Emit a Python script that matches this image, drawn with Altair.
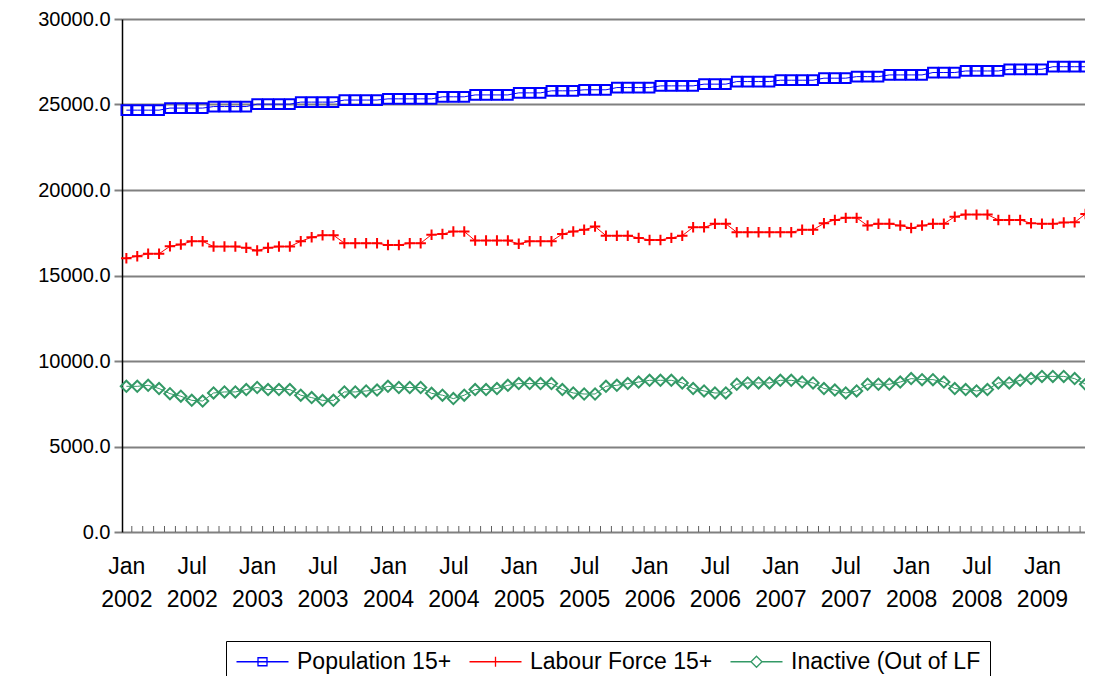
import altair as alt
import pandas as pd

# ---------------- data ----------------
months = list(range(89))  # Jan 2002 .. May 2009

population = [
    24670, 24670, 24670, 24670, 24790, 24790, 24790, 24790, 24880, 24880, 24880, 24880,
    25020, 25020, 25020, 25020, 25140, 25140, 25140, 25140, 25260, 25260, 25260, 25260,
    25330, 25330, 25330, 25330, 25330, 25450, 25450, 25450, 25560, 25560, 25560, 25560,
    25680, 25680, 25680, 25800, 25800, 25800, 25860, 25860, 25860, 25990, 25990, 25990,
    25990, 26090, 26090, 26090, 26090, 26190, 26190, 26190, 26340, 26340, 26340, 26340,
    26420, 26420, 26420, 26420, 26540, 26540, 26540, 26630, 26630, 26630, 26730, 26730,
    26730, 26730, 26870, 26870, 26870, 26960, 26960, 26960, 26960, 27060, 27060, 27060,
    27060, 27210, 27210, 27210, 27210,
]

labour = [
    16010, 16130, 16270, 16270, 16710, 16810, 17000, 17000, 16690, 16690, 16690, 16620,
    16460, 16620, 16690, 16690, 17000, 17240, 17360, 17360, 16890, 16890, 16890, 16890,
    16780, 16780, 16890, 16890, 17390, 17430, 17570, 17570, 17040, 17040, 17040, 17040,
    16850, 17000, 17000, 17000, 17430, 17570, 17670, 17860, 17330, 17330, 17330, 17200,
    17080, 17080, 17200, 17330, 17820, 17820, 18020, 18020, 17530, 17530, 17530, 17530,
    17530, 17530, 17670, 17670, 18050, 18250, 18370, 18370, 17920, 18020, 18020, 17920,
    17780, 17920, 18020, 18020, 18440, 18560, 18560, 18560, 18250, 18250, 18250, 18050,
    18020, 18020, 18100, 18110, 18600,
]

inactive = [
    8520, 8520, 8580, 8390, 8090, 7940, 7700, 7660, 8130, 8190, 8190, 8330,
    8450, 8330, 8330, 8330, 8000, 7860, 7700, 7700, 8190, 8190, 8250, 8300,
    8520, 8450, 8450, 8450, 8110, 8000, 7800, 8000, 8330, 8330, 8390, 8580,
    8680, 8680, 8680, 8680, 8330, 8130, 8070, 8070, 8520, 8580, 8680, 8770,
    8870, 8870, 8870, 8720, 8390, 8250, 8130, 8130, 8640, 8720, 8720, 8720,
    8870, 8870, 8770, 8720, 8390, 8300, 8130, 8250, 8640, 8640, 8640, 8770,
    8970, 8910, 8910, 8770, 8390, 8330, 8250, 8330, 8720, 8720, 8870, 8970,
    9100, 9100, 9100, 8970, 8640,
]

series_names = ["Population 15+", "Labour Force 15+", "Inactive (Out of LF"]
series_colors = ["#0000FF", "#FF0000", "#339966"]

tick_values = [0, 6, 12, 18, 24, 30, 36, 42, 48, 54, 60, 66, 72, 78, 84]
tick_month = ["Jan", "Jul", "Jan", "Jul", "Jan", "Jul", "Jan", "Jul",
              "Jan", "Jul", "Jan", "Jul", "Jan", "Jul", "Jan"]
tick_year = ["2002", "2002", "2003", "2003", "2004", "2004", "2005", "2005",
             "2006", "2006", "2007", "2007", "2008", "2008", "2009"]
minor_ticks = [m + 0.5 for m in months]
y_ticks = [0, 5000, 10000, 15000, 20000, 25000, 30000]

# ---------------- tables ----------------
rows = []
for name, vals in zip(series_names, [population, labour, inactive]):
    for m, v in zip(months, vals):
        rows.append({"m": m, "value": v, "series": name})
df = pd.DataFrame(rows)
ticks_df = pd.DataFrame({"m": minor_ticks})
legend_df = pd.DataFrame({"series": series_names})

FONT = "Liberation Sans"

label_expr = (
    "[" + ",".join("['%s','%s']" % (a, b) for a, b in zip(tick_month, tick_year)) + "]"
    + "[indexof([" + ",".join(str(v) for v in tick_values) + "], datum.value)]"
)

x_scale = alt.Scale(domain=[-0.4, 87.95], nice=False, zero=False)
y_scale = alt.Scale(domain=[0, 30000], nice=False, zero=True)

X = alt.X(
    "m:Q", scale=x_scale,
    axis=alt.Axis(values=tick_values, labelExpr=label_expr, ticks=False, domain=False,
                  grid=False, labelFontSize=23, labelFont=FONT, labelColor="black",
                  labelPadding=23, labelLineHeight=33, labelFlush=False,
                  labelOverlap=False, labelBaseline="top", labelAlign="center",
                  title=None),
)
Y = alt.Y(
    "value:Q", scale=y_scale,
    axis=alt.Axis(values=y_ticks, format=".1f", labelFontSize=20, labelFont=FONT,
                  labelColor="black", labelPadding=4, tickSize=8, tickColor="#808080",
                  tickWidth=2, grid=True, gridColor="#808080", gridWidth=2,
                  domainColor="black", domainWidth=1.5, title=None),
)

layers = []

# connecting lines
for name, col in zip(series_names, series_colors):
    layers.append(
        alt.Chart(df).transform_filter(alt.datum.series == name)
        .mark_line(color=col, strokeWidth=1)
        .encode(x=X, y=Y)
    )

# markers
marker_shapes = ["square", "M-1,0H1M0,-1V1", "diamond"]
marker_sizes = [95, 110, 125]
for name, col, shp, sz in zip(series_names, series_colors, marker_shapes, marker_sizes):
    layers.append(
        alt.Chart(df).transform_filter(alt.datum.series == name)
        .mark_point(shape=shp, color=col, size=sz, strokeWidth=2, filled=False, opacity=1)
        .encode(x=X, y=Y)
    )

# minor x ticks (between categories, pointing up)
layers.append(
    alt.Chart(ticks_df).mark_rule(color="#606060", strokeWidth=1)
    .encode(x=X, y=alt.value(507), y2=alt.value(513))
)

# legend-only layer: symbol = line segment with the series marker on it
legend_paths = [
    "M-1,0H4.2M1.15,-0.4H2.05V0.4H1.15Z",
    "M-1,0H4.2M1.6,-0.5V0.5",
    "M-1,0H1.05M2.15,0H4.2M1.6,-0.55L2.15,0L1.6,0.55L1.05,0Z",
]
leg = alt.Legend(orient="none", legendX=104, legendY=622, direction="horizontal",
                 title=None, symbolSize=400, symbolStrokeWidth=1.3, symbolOpacity=1,
                 labelFontSize=23, labelFont=FONT, labelColor="black", labelOffset=39,
                 columnPadding=14, padding=9, strokeColor="black", fillColor="white",
                 labelLimit=0)
layers.append(
    alt.Chart(legend_df).mark_point(opacity=0, filled=False)
    .encode(
        color=alt.Color("series:N", scale=alt.Scale(domain=series_names, range=series_colors), legend=leg),
        shape=alt.Shape("series:N", scale=alt.Scale(domain=series_names, range=legend_paths), legend=leg),
    )
)

chart = (
    alt.layer(*layers)
    .properties(width=963, height=513,
                autosize=alt.AutoSizeParams(type="none"),
                padding={"left": 114, "top": 11, "right": 0, "bottom": 144},
                background="white")
    .configure_view(stroke=None)
)

chart.save("out.html", embed_options={"renderer": "svg", "actions": False})
